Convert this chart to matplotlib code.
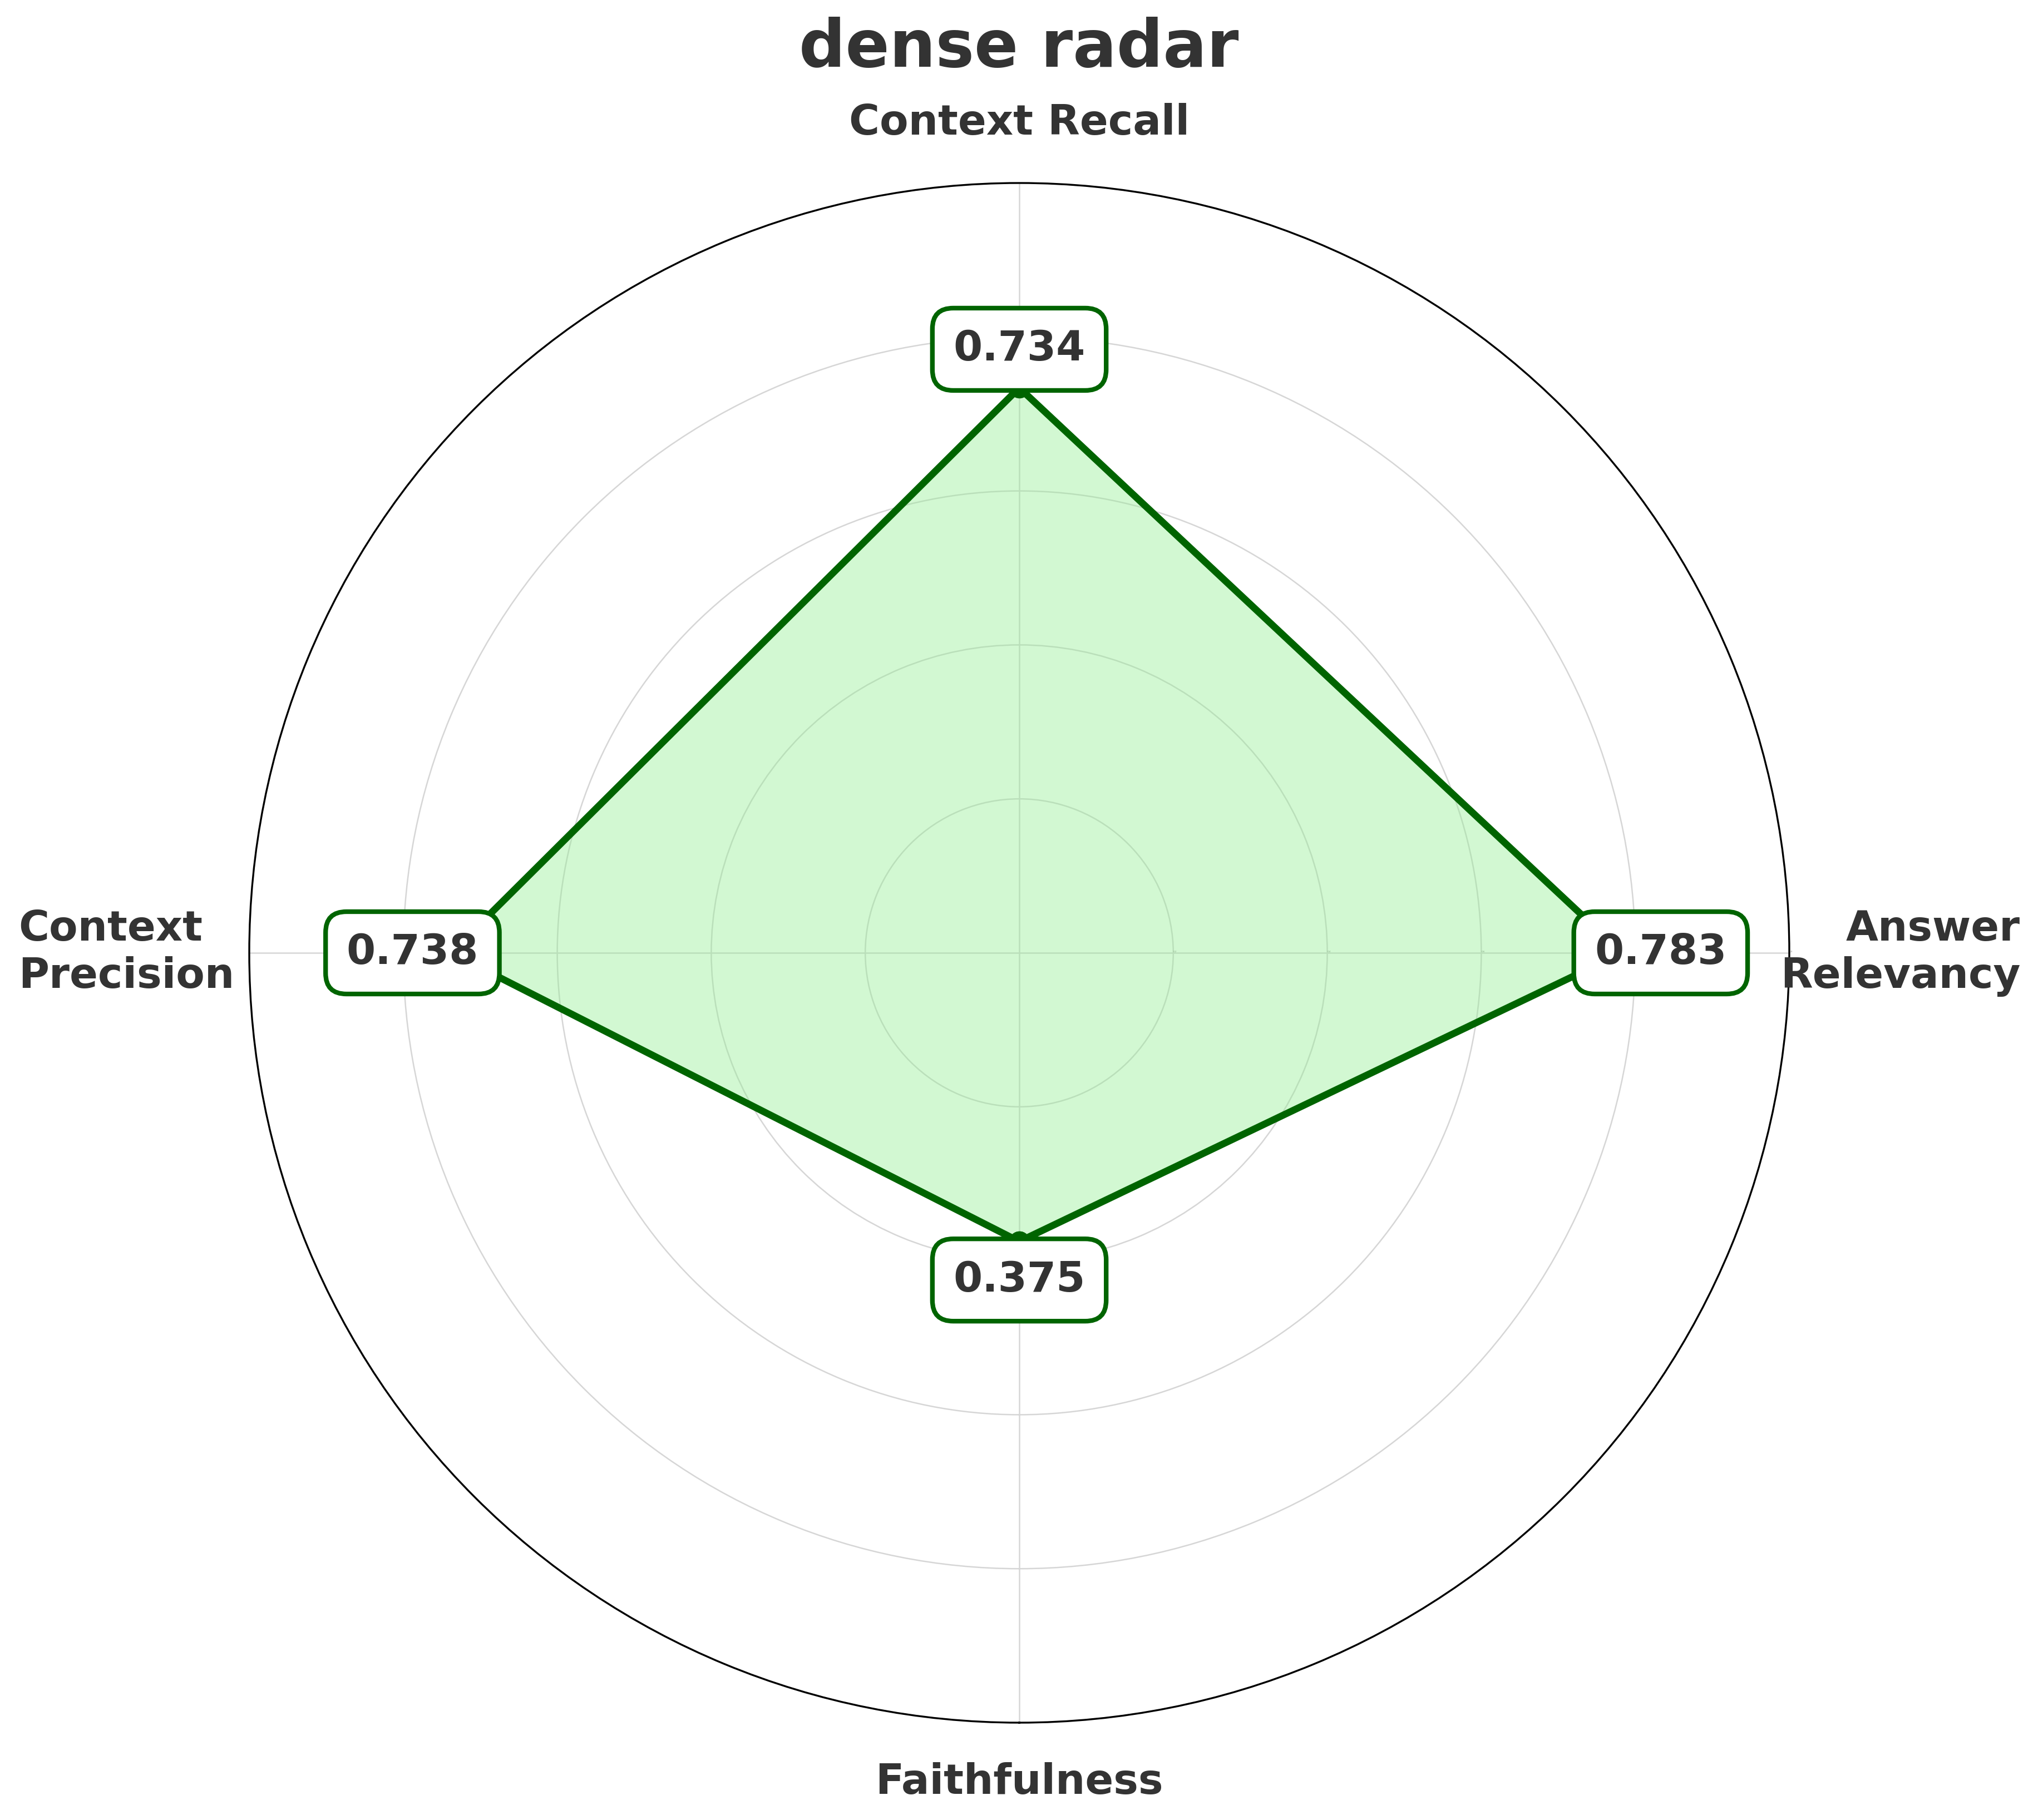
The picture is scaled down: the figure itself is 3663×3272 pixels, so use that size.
import numpy as np
import matplotlib
matplotlib.use("Agg")
import matplotlib.pyplot as plt

# ---- data ----
categories = ["Faithfulness", "Answer\nRelevancy", "Context Recall", "Context\nPrecision"]
values = [0.375, 0.783, 0.734, 0.738]
rticks = [0.2, 0.4, 0.6, 0.8, 1.0]
rtick_labels = ["0.2", "0.4", "0.6", "0.8", "1.0"]
title = "dense radar"

line_color = "#006400"
fill_color = "lightgreen"
text_color = "#333333"

W, H, DPI = 3663, 3272, 300
fig = plt.figure(figsize=(W / DPI, H / DPI), dpi=DPI)
cx, cy, R = 1832, 1713, 1384
ax = fig.add_axes([(cx - R) / W, (H - cy - R) / H, 2 * R / W, 2 * R / H], projection="polar")

n = len(categories)
angles = np.linspace(0, 2 * np.pi, n, endpoint=False)
ax.set_theta_offset(-np.pi / 2)
ax.set_theta_direction(1)

closed_angles = np.concatenate([angles, angles[:1]])
closed_vals = np.concatenate([values, values[:1]])

ax.fill(closed_angles, closed_vals, color=fill_color, alpha=0.4, zorder=2)
ax.plot(closed_angles, closed_vals, color=line_color, linewidth=3, marker="o",
        markersize=8, zorder=3)

ax.set_ylim(0, 1.0)
ax.set_yticks(rticks)
ax.set_yticklabels(rtick_labels, fontsize=1, color="gray")
ax.set_rlabel_position(90)
ax.set_xticks(angles)
ax.set_xticklabels([])
ax.grid(True, color="#d6d6d6", linewidth=0.6)
ax.spines["polar"].set_color("black")
ax.spines["polar"].set_linewidth(0.8)

# category labels
for ang, lab in zip(angles, categories):
    c = np.cos(ang - np.pi / 2)  # screen x-direction with offset -pi/2
    if abs(c) < 0.1:
        ax.text(ang, 1.078, lab, ha="center", va="center", fontsize=18,
                fontweight="bold", color=text_color)
    elif c > 0:
        ax.text(ang, 1.30, lab, ha="right", va="center", fontsize=18,
                fontweight="bold", color=text_color, multialignment="right")
    else:
        ax.text(ang, 1.30, lab, ha="left", va="center", fontsize=18,
                fontweight="bold", color=text_color, multialignment="left")

# value labels
for ang, v in zip(angles, values):
    ax.text(ang, v + 0.05, f"{v:.3f}", ha="center", va="center", fontsize=18,
            fontweight="bold", color=text_color, zorder=5,
            bbox=dict(boxstyle="round,pad=0.5", facecolor="white",
                      edgecolor=line_color, linewidth=2))

fig.text(0.5, 1 - 120 / H, title, ha="center", va="baseline", fontsize=28,
         fontweight="bold", color=text_color)

fig.savefig("out.png", dpi=DPI, facecolor="white")
